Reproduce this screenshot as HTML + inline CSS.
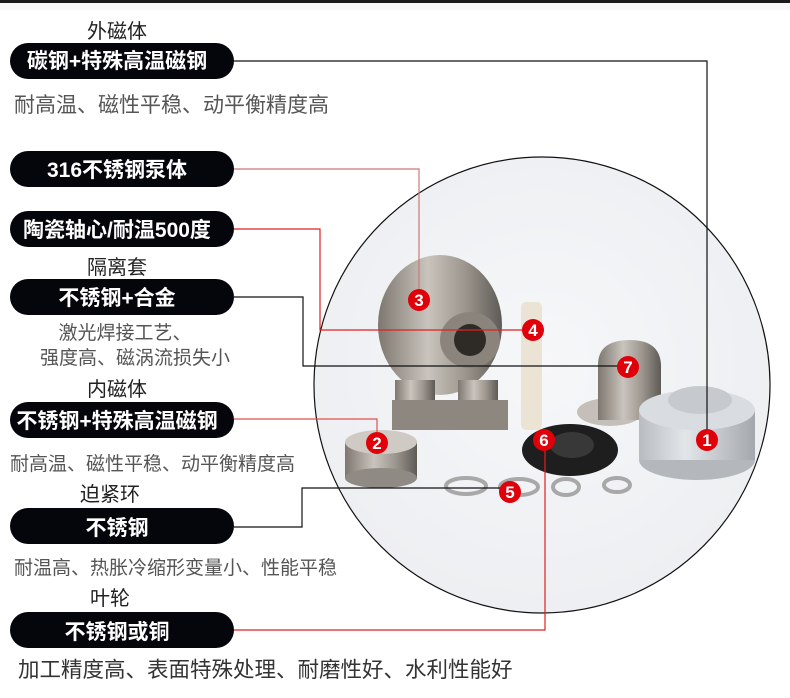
<!DOCTYPE html>
<html><head><meta charset="utf-8"><style>
html,body{margin:0;padding:0;background:#fff;}
body{width:790px;height:698px;overflow:hidden;position:relative;font-family:"Liberation Sans","Noto Sans CJK SC",sans-serif;}
svg{position:absolute;left:0;top:0;}
</style></head><body>
<svg width="790" height="698" viewBox="0 0 790 698" font-family="Liberation Sans, Noto Sans CJK SC, sans-serif">
<defs>
<radialGradient id="bg" cx="0.5" cy="0.45" r="0.6"><stop offset="0" stop-color="#f6f7f9"/><stop offset="1" stop-color="#eceef1"/></radialGradient>
<linearGradient id="steel" x1="0" x2="1"><stop offset="0" stop-color="#7d776f"/><stop offset="0.4" stop-color="#c9c4bd"/><stop offset="0.7" stop-color="#9c968e"/><stop offset="1" stop-color="#5e5a55"/></linearGradient>
<linearGradient id="alu" x1="0" x2="1"><stop offset="0" stop-color="#b8bcc1"/><stop offset="0.4" stop-color="#e3e6e9"/><stop offset="1" stop-color="#a4a8ad"/></linearGradient>
</defs>
<rect x="0" y="0" width="790" height="3" fill="#1a1a1a"/>
<rect x="0" y="3" width="790" height="7" fill="#f8f8f8"/>
<circle cx="542" cy="385" r="228" fill="url(#bg)" stroke="#111" stroke-width="1.2"/>
<ellipse cx="440" cy="325" rx="62" ry="70" fill="url(#steel)"/>
<ellipse cx="470" cy="340" rx="30" ry="28" fill="#8a847c"/>
<ellipse cx="470" cy="340" rx="16" ry="16" fill="#2e2a26"/>
<rect x="395" y="380" width="40" height="42" fill="url(#steel)"/>
<rect x="458" y="380" width="40" height="42" fill="url(#steel)"/>
<rect x="392" y="400" width="116" height="30" fill="#8d877f"/>
<rect x="521" y="302" width="21" height="128" rx="5" fill="#ebe4d5"/>
<ellipse cx="610" cy="412" rx="33" ry="14" fill="#c4bfb8"/>
<path d="M598 365 Q598 340 630 340 Q660 340 661 365 L661 420 L598 420 Z" fill="url(#steel)"/>
<ellipse cx="697" cy="460" rx="58" ry="20" fill="#b4b8bc"/>
<rect x="639" y="410" width="116" height="50" fill="url(#alu)"/>
<ellipse cx="697" cy="410" rx="58" ry="20" fill="#d9dce0"/>
<ellipse cx="700" cy="400" rx="32" ry="14" fill="#c6c9cd"/>
<rect x="345" y="442" width="72" height="36" fill="url(#steel)"/>
<ellipse cx="381" cy="478" rx="36" ry="10" fill="#8f8a84"/>
<ellipse cx="381" cy="442" rx="36" ry="12" fill="#cfcac4"/>
<ellipse cx="570" cy="450" rx="48" ry="26" fill="#1e1e1e"/>
<ellipse cx="572" cy="445" rx="22" ry="13" fill="#383838"/>
<g fill="none" stroke="#a8a8a8" stroke-width="4">
<ellipse cx="466" cy="486" rx="20" ry="8"/><ellipse cx="519" cy="487" rx="19" ry="8"/>
<ellipse cx="566" cy="487" rx="13" ry="8"/><ellipse cx="617" cy="485" rx="13" ry="7"/>
</g>
<g fill="none" stroke-width="1.2">
<polyline points="234,61 707,61 707,440" stroke="#111"/>
<polyline points="234,169 419,169 419,300" stroke="#c77"/>
<polyline points="234,229 320,229 320,330 532,330" stroke="#e02020"/>
<polyline points="234,297 303,297 303,366 627,366" stroke="#111"/>
<polyline points="234,419 377,419 377,443" stroke="#e05050"/>
<polyline points="234,527 302,527 302,488 511,488" stroke="#111"/>
<polyline points="234,630 545,630 545,441" stroke="#e02020"/>
</g>
<g font-size="17" font-weight="bold" fill="#fff" text-anchor="middle">
<circle cx="707" cy="440" r="11" fill="#e0000a"/><text x="707" y="446">1</text>
<circle cx="377" cy="443" r="11" fill="#e0000a"/><text x="377" y="449">2</text>
<circle cx="419" cy="300" r="11" fill="#e0000a"/><text x="419" y="306">3</text>
<circle cx="533" cy="330" r="11" fill="#e0000a"/><text x="533" y="336">4</text>
<circle cx="510" cy="492" r="11" fill="#e0000a"/><text x="510" y="498">5</text>
<circle cx="544" cy="440" r="11" fill="#e0000a"/><text x="544" y="446">6</text>
<circle cx="628" cy="367" r="11" fill="#e0000a"/><text x="628" y="373">7</text>
</g>
<g fill="#05050c">
<rect x="10" y="43" width="224" height="36" rx="18"/>
<rect x="10" y="151" width="224" height="36" rx="18"/>
<rect x="10" y="211" width="224" height="36" rx="18"/>
<rect x="10" y="279" width="224" height="36" rx="18"/>
<rect x="10" y="402" width="224" height="36" rx="18"/>
<rect x="10" y="508" width="224" height="36" rx="18"/>
<rect x="10" y="612" width="224" height="36" rx="18"/>
</g>
<g fill="#fff" font-size="21" font-weight="bold" text-anchor="middle">
<text x="117" y="68">碳钢+特殊高温磁钢</text>
<text x="117" y="177">316不锈钢泵体</text>
<text x="117" y="237">陶瓷轴心/耐温500度</text>
<text x="117" y="305">不锈钢+合金</text>
<text x="117" y="428">不锈钢+特殊高温磁钢</text>
<text x="117" y="535">不锈钢</text>
<text x="117" y="639">不锈钢或铜</text>
</g>
<g fill="#222" font-size="20" text-anchor="middle">
<text x="117" y="38">外磁体</text>
<text x="117" y="274">隔离套</text>
<text x="117" y="396">内磁体</text>
<text x="110" y="501">迫紧环</text>
<text x="110" y="605">叶轮</text>
</g>
<g fill="#555" font-size="19">
<text x="14" y="112" font-size="21">耐高温、磁性平稳、动平衡精度高</text>
<text x="125" y="339" text-anchor="middle">激光焊接工艺、</text>
<text x="135" y="364" text-anchor="middle">强度高、磁涡流损失小</text>
<text x="10" y="470">耐高温、磁性平稳、动平衡精度高</text>
<text x="14" y="574">耐温高、热胀冷缩形变量小、性能平稳</text>
</g>
<text x="18" y="677" fill="#333" font-size="21.5">加工精度高、表面特殊处理、耐磨性好、水利性能好</text>
</svg>
</body></html>
